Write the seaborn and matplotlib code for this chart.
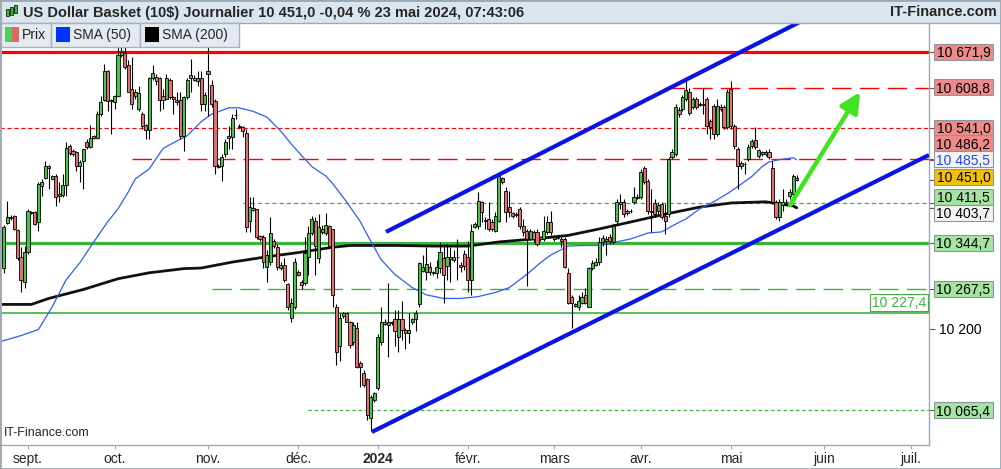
import numpy as np
import pandas as pd
import matplotlib
matplotlib.use("Agg")
import matplotlib.pyplot as plt
from matplotlib.patches import Rectangle
import seaborn as sns

sns.set_style("white")
plt.rcParams["font.family"] = ["Liberation Sans", "DejaVu Sans"]
plt.rcParams["lines.scale_dashes"] = False

# ---------------- data ----------------
# daily sessions (sunday to friday), 24 aug 2023 -> 23 may 2024
first_day = "2023-08-24"
holidays = ["2023-12-24", "2023-12-25", "2023-12-31", "2024-01-01", "2024-03-31"]

opens = [10302, 10378, 10388, 10390, 10366, 10321, 10279, 10329, 10397, 10397,
         10380, 10441, 10455, 10475, 10453, 10458, 10428, 10426, 10443, 10510,
         10501, 10499, 10475, 10484, 10516, 10508, 10527, 10523, 10564, 10588,
         10638, 10588, 10585, 10595, 10667, 10670, 10650, 10607, 10602, 10573,
         10564, 10545, 10537, 10626, 10629, 10626, 10595, 10591, 10624, 10593,
         10588, 10588, 10527, 10593, 10631, 10627, 10621, 10627, 10581, 10633,
         10615, 10586, 10475, 10475, 10496, 10527, 10525, 10563, 10544, 10542,
         10532, 10381, 10400, 10402, 10356, 10354, 10304, 10312, 10347, 10337,
         10302, 10307, 10276, 10219, 10237, 10296, 10279, 10277, 10321, 10361,
         10381, 10319, 10368, 10361, 10373, 10368, 10237, 10171, 10221, 10227,
         10212, 10179, 10201, 10144, 10127, 10117, 10052, 10082, 10102, 10179,
         10212, 10207, 10211, 10217, 10187, 10217, 10199, 10194, 10211, 10216,
         10241, 10297, 10296, 10304, 10296, 10294, 10302, 10319, 10306, 10321,
         10316, 10321, 10307, 10326, 10321, 10282, 10371, 10373, 10414, 10383,
         10385, 10380, 10364, 10381, 10455, 10433, 10405, 10395, 10393, 10402,
         10373, 10364, 10351, 10363, 10363, 10354, 10351, 10363, 10380, 10351,
         10354, 10351, 10351, 10294, 10254, 10241, 10236, 10244, 10257, 10237,
         10302, 10307, 10312, 10346, 10351, 10354, 10346, 10381, 10414, 10414,
         10399, 10399, 10414, 10422, 10422, 10472, 10450, 10399, 10412, 10399,
         10410, 10390, 10393, 10491, 10496, 10571, 10573, 10590, 10603, 10576,
         10590, 10581, 10581, 10590, 10552, 10578, 10530, 10576, 10576, 10542,
         10607, 10544, 10505, 10475, 10479, 10487, 10510, 10520, 10493, 10499,
         10496, 10499, 10472, 10414, 10388, 10409, 10414, 10424, 10428, 10455]

highs = [10375, 10416, 10392, 10392, 10368, 10337, 10339, 10402, 10399, 10399,
         10448, 10452, 10484, 10477, 10460, 10462, 10448, 10462, 10516, 10513,
         10505, 10501, 10486, 10505, 10522, 10545, 10528, 10569, 10595, 10651,
         10641, 10590, 10597, 10680, 10682, 10682, 10658, 10663, 10607, 10612,
         10568, 10547, 10629, 10650, 10633, 10629, 10607, 10633, 10627, 10595,
         10603, 10603, 10595, 10627, 10660, 10631, 10638, 10638, 10603, 10689,
         10624, 10590, 10479, 10496, 10522, 10544, 10564, 10573, 10547, 10544,
         10539, 10422, 10422, 10402, 10357, 10357, 10333, 10388, 10351, 10342,
         10312, 10319, 10277, 10252, 10319, 10299, 10282, 10354, 10373, 10390,
         10388, 10393, 10375, 10395, 10375, 10368, 10241, 10227, 10229, 10229,
         10214, 10211, 10211, 10146, 10132, 10119, 10090, 10095, 10191, 10237,
         10216, 10277, 10214, 10232, 10232, 10246, 10202, 10227, 10219, 10232,
         10312, 10324, 10337, 10312, 10297, 10316, 10346, 10342, 10342, 10337,
         10333, 10351, 10312, 10333, 10347, 10376, 10380, 10431, 10416, 10388,
         10414, 10385, 10397, 10462, 10457, 10440, 10433, 10397, 10397, 10405,
         10385, 10368, 10368, 10366, 10368, 10356, 10390, 10390, 10399, 10357,
         10357, 10354, 10354, 10302, 10257, 10244, 10257, 10261, 10269, 10304,
         10316, 10319, 10354, 10357, 10356, 10359, 10376, 10419, 10428, 10419,
         10402, 10402, 10440, 10428, 10470, 10475, 10453, 10436, 10419, 10414,
         10414, 10410, 10491, 10505, 10581, 10576, 10598, 10621, 10610, 10593,
         10593, 10585, 10610, 10593, 10556, 10581, 10590, 10581, 10580, 10607,
         10622, 10547, 10508, 10484, 10482, 10513, 10522, 10542, 10505, 10501,
         10503, 10505, 10484, 10417, 10419, 10436, 10419, 10436, 10462, 10460]

lows = [10294, 10376, 10383, 10366, 10316, 10261, 10269, 10326, 10393, 10375,
        10364, 10424, 10452, 10436, 10452, 10407, 10414, 10422, 10424, 10494,
        10493, 10467, 10448, 10436, 10505, 10506, 10522, 10522, 10561, 10586,
        10569, 10530, 10573, 10593, 10663, 10643, 10602, 10573, 10591, 10569,
        10539, 10522, 10522, 10624, 10615, 10569, 10573, 10590, 10590, 10564,
        10580, 10522, 10501, 10590, 10602, 10621, 10612, 10569, 10569, 10561,
        10576, 10462, 10472, 10450, 10491, 10505, 10505, 10556, 10540, 10525,
        10363, 10363, 10399, 10351, 10347, 10302, 10279, 10307, 10335, 10299,
        10299, 10279, 10232, 10211, 10234, 10289, 10266, 10274, 10291, 10357,
        10291, 10311, 10359, 10357, 10335, 10237, 10140, 10146, 10219, 10211,
        10169, 10174, 10135, 10104, 10104, 10049, 10032, 10079, 10099, 10174,
        10206, 10154, 10206, 10171, 10161, 10182, 10166, 10177, 10209, 10196,
        10237, 10296, 10282, 10291, 10291, 10286, 10294, 10244, 10282, 10279,
        10312, 10282, 10296, 10299, 10261, 10257, 10369, 10368, 10380, 10368,
        10364, 10364, 10363, 10380, 10445, 10380, 10388, 10387, 10388, 10368,
        10356, 10271, 10349, 10346, 10339, 10347, 10347, 10359, 10357, 10347,
        10351, 10337, 10302, 10241, 10202, 10236, 10232, 10241, 10241, 10237,
        10299, 10306, 10307, 10339, 10324, 10342, 10342, 10376, 10402, 10388,
        10392, 10395, 10410, 10419, 10419, 10445, 10393, 10363, 10388, 10393,
        10385, 10359, 10388, 10487, 10493, 10559, 10569, 10586, 10563, 10573,
        10573, 10578, 10564, 10530, 10522, 10522, 10527, 10569, 10539, 10539,
        10539, 10505, 10436, 10470, 10462, 10484, 10506, 10505, 10489, 10493,
        10493, 10487, 10410, 10385, 10381, 10399, 10409, 10419, 10424, 10449]

closes = [10371, 10388, 10387, 10368, 10319, 10282, 10329, 10399, 10395, 10376,
          10445, 10448, 10475, 10472, 10458, 10422, 10424, 10443, 10506, 10498,
          10496, 10475, 10482, 10505, 10508, 10523, 10523, 10564, 10585, 10638,
          10586, 10586, 10595, 10667, 10672, 10646, 10603, 10581, 10595, 10600,
          10544, 10537, 10626, 10636, 10621, 10588, 10588, 10626, 10593, 10591,
          10585, 10527, 10593, 10624, 10626, 10624, 10627, 10581, 10598, 10638,
          10581, 10475, 10474, 10491, 10516, 10523, 10557, 10562, 10542, 10535,
          10371, 10405, 10404, 10354, 10351, 10312, 10324, 10361, 10339, 10304,
          10307, 10282, 10237, 10244, 10312, 10291, 10274, 10328, 10361, 10385,
          10339, 10371, 10363, 10375, 10339, 10257, 10161, 10219, 10227, 10212,
          10174, 10207, 10137, 10137, 10107, 10057, 10087, 10094, 10187, 10212,
          10209, 10212, 10210, 10196, 10217, 10199, 10194, 10199, 10216, 10227,
          10311, 10304, 10309, 10296, 10294, 10304, 10329, 10291, 10321, 10317,
          10321, 10320, 10304, 10306, 10282, 10364, 10376, 10416, 10397, 10382,
          10368, 10368, 10390, 10458, 10448, 10397, 10397, 10390, 10392, 10373,
          10363, 10351, 10364, 10351, 10342, 10351, 10364, 10380, 10363, 10354,
          10353, 10347, 10304, 10244, 10244, 10239, 10246, 10254, 10244, 10302,
          10311, 10312, 10346, 10352, 10347, 10347, 10373, 10414, 10410, 10393,
          10395, 10398, 10422, 10421, 10465, 10448, 10399, 10397, 10393, 10409,
          10388, 10381, 10487, 10499, 10576, 10564, 10593, 10605, 10566, 10590,
          10576, 10580, 10580, 10544, 10542, 10530, 10578, 10573, 10542, 10603,
          10544, 10510, 10475, 10481, 10478, 10508, 10518, 10508, 10503, 10496,
          10499, 10491, 10414, 10388, 10414, 10414, 10413, 10431, 10458, 10451]

# moving averages (session index, value)
sma50_idx = [-1, 5, 10, 14, 18, 22, 26, 30, 33, 36, 38, 42, 46, 50, 53, 57, 60, 65, 68,
             72, 76, 80, 83, 86, 89, 93, 95, 99, 103, 106, 109, 113, 118, 122, 127,
             132, 137, 142, 146, 151, 155, 158, 163, 168, 172, 181, 186, 190, 193,
             197, 201, 205, 209, 212, 216, 219, 221, 224, 228, 229]
sma50_val = [10179, 10189, 10199, 10237, 10282, 10311, 10346, 10380, 10402, 10431,
             10453, 10470, 10505, 10518, 10527, 10551, 10564, 10575, 10575, 10569,
             10559, 10535, 10513, 10493, 10474, 10458, 10445, 10414, 10380, 10347,
             10316, 10291, 10269, 10257, 10251, 10251, 10254, 10261, 10269, 10291,
             10311, 10324, 10339, 10340, 10340, 10351, 10361, 10363, 10373, 10385,
             10402, 10414, 10428, 10440, 10457, 10474, 10482, 10486, 10489, 10485.5]

sma200_idx = [-1, 8, 13, 23, 33, 42, 52, 57, 66, 76, 85, 95, 100, 114, 124, 134, 143,
              153, 163, 172, 182, 191, 201, 210, 220, 228, 229]
sma200_val = [10241, 10241, 10251, 10266, 10284, 10294, 10301, 10302, 10312, 10321,
              10328, 10337, 10340, 10340, 10339, 10339, 10346, 10351, 10357, 10368,
              10381, 10393, 10405, 10412, 10414, 10407, 10403.7]

# horizontal levels and the session where each one starts
level_val = [10671.9, 10608.8, 10541.0, 10486.2, 10411.5, 10344.7, 10267.5, 10227.4, 10065.4]
level_from = [-1, 191, -1, 37, 69, -1, 60, -1, 88]

# trend channel and target arrow (session index, price)
chan_low_x, chan_low_y = [106.3, 267.2], [10029.9, 10493.9]
chan_up_x, chan_up_y = [110.4, 229.9], [10362.9, 10724.3]
arrow_from = (227.1, 10408.6)
arrow_to = (247.3, 10602.3)

month_labels = ["sept.", "oct.", "nov.", "déc.", "2024", "févr.", "mars", "avr.", "mai", "juin", "juil."]

right_labels = ["10 671,9", "10 608,8", "10 541,0", "10 486,2", "10 485,5", "10 451,0",
                "10 411,5", "10 403,7", "10 344,7", "10 267,5", "10 065,4"]
right_values = [10671.9, 10608.8, 10541.0, 10486.2, 10485.5, 10451.0,
                10411.5, 10403.7, 10344.7, 10267.5, 10065.4]

# ---------------- styling ----------------
GREEN_C = "#4cc24c"
RED_C = "#e07070"
RED_L = "#ff0000"
GREEN_L = "#3cb43c"
FRAME = "#9ea8b2"

W, H = 1001, 469
fig = plt.figure(figsize=(W / 100, H / 100), dpi=100)
fig.patch.set_facecolor("white")
ax = fig.add_axes([2 / W, (H - 445) / H, (929 - 2) / W, (445 - 23) / H])
ax.set_facecolor("white")

days = pd.date_range(first_day, "2024-07-31")
days = days[(days.dayofweek != 5) & ~days.isin(pd.to_datetime(holidays))]
pos = pd.Series(np.arange(len(days)), index=days)
month_first = pos.groupby(pos.index.to_period("M")).min().iloc[1:12].values

o, h, l, c = map(np.array, (opens, highs, lows, closes))
idx = np.arange(len(o))
up = c >= o

ax.set_yscale("log")

# levels
styles = ["-", (0, (14, 6)), (0, (3, 2)), (0, (14, 6)), (0, (3, 2.2)), "-", (0, (14, 6)), "-", (0, (2.5, 2))]
colors = [RED_L, RED_L, RED_L, RED_L, GREEN_L, GREEN_L, GREEN_L, GREEN_L, GREEN_L]
widths = [2.3, 1.0, 0.9, 1.0, 0.9, 2.3, 1.0, 1.2, 0.9]
for v, x0, col, ls, lw in zip(level_val, level_from, colors, styles, widths):
    ax.hlines(v, x0, 267.2, colors=col, linestyles=[ls], lw=lw, zorder=2)

# moving averages
sns.lineplot(x=sma200_idx, y=sma200_val, ax=ax, color="#111111", lw=2.0, zorder=5)
sns.lineplot(x=sma50_idx, y=sma50_val, ax=ax, color="#2f5cff", lw=0.9, zorder=5)

# candles
ax.vlines(idx, l, h, color="black", lw=0.8, zorder=6)
ax.bar(idx, np.maximum(np.abs(c - o), 0.6), bottom=np.minimum(o, c), width=0.9,
       color=np.where(up, GREEN_C, RED_C), edgecolor="black", linewidth=0.6, zorder=7)

# channel + arrow
ax.plot(chan_low_x, chan_low_y, color="#0a14e6", lw=3.0, solid_capstyle="butt", zorder=8)
ax.plot(chan_up_x, chan_up_y, color="#0a14e6", lw=3.0, solid_capstyle="butt", zorder=8)
ax.annotate("", xy=arrow_to, xytext=arrow_from,
            arrowprops=dict(arrowstyle="-|>,head_length=1.2,head_width=0.6", color="#3fe31f",
                            lw=3.2, shrinkA=0, shrinkB=0), zorder=8)

ax.set_xlim(-0.5, 267.2)
ax.set_ylim(10008.6, 10722.5)

# axes cosmetics
for s in ["top", "left"]:
    ax.spines[s].set_visible(False)
for s in ["right", "bottom"]:
    ax.spines[s].set_color(FRAME)
    ax.spines[s].set_linewidth(1.0)
ax.yaxis.tick_right()
ax.set_yticks([], minor=True)
ax.set_yticks(right_values + [10200], labels=[""] * len(right_values) + ["10 200"])
ax.tick_params(axis="y", which="major", right=True, length=4, width=0.8, color="#555555",
               labelsize=10, pad=3, labelcolor="black")
ax.set_xticks(month_first, labels=month_labels)
ax.tick_params(axis="x", bottom=True, length=3, width=0.8, color=FRAME, labelsize=10, pad=2)
ax.get_xticklabels()[4].set_fontweight("bold")
ax.set_xlabel("")
ax.set_ylabel("")
ax.grid(False)

ax.text(0.002, 0.015, "IT-Finance.com", transform=ax.transAxes, fontsize=9, ha="left", va="bottom")

# in-plot label for 10 227,4
ax.annotate("10 227,4", xy=(1, 10227.4), xycoords=("axes fraction", "data"),
            xytext=(-2, 2), textcoords="offset points", ha="right", va="bottom",
            fontsize=10, color=GREEN_L,
            bbox=dict(boxstyle="square,pad=0.12", fc="white", ec=GREEN_L, lw=0.8), zorder=9)

# right-hand value boxes (pixel nudges keep them from overlapping)
faces = ["#f08a8a"] * 4 + ["#f4f4f4", "#f2c200", "#a4e4a0", "#f4f4f4", "#a4e4a0", "#a4e4a0", "#a4e4a0"]
tcols = ["black"] * 4 + ["#1f44ff"] + ["black"] * 6
nudge = [0, 1, 0, 16, 0.5, 3.5, 6.5, -5, 0, 0, 0]
for txt, val, fc, tc, dy in zip(right_labels, right_values, faces, tcols, nudge):
    ypix = ax.transData.transform((0, val))[1] + dy
    fig.patches.append(Rectangle((934 / W, (ypix - 8) / H), 59 / W, 16 / H,
                                 transform=fig.transFigure, fc=fc, ec="#8c969e", lw=0.8))
    fig.text(963.5 / W, ypix / H, txt, ha="center", va="center_baseline", fontsize=10, color=tc)

# title bar
fig.patches.append(Rectangle((0, (H - 23) / H), 1, 23 / H, transform=fig.transFigure,
                             fc="#dbe5ee", ec=FRAME, lw=1.0))
fig.text(23 / W, (H - 12.5) / H, "US Dollar Basket (10$) Journalier 10 451,0 -0,04 % 23 mai 2024, 07:43:06",
         ha="left", va="center", fontsize=10.5, fontweight="bold")
fig.text(997 / W, (H - 12.5) / H, "IT-Finance.com", ha="right", va="center", fontsize=10.5, fontweight="bold")
for k, (col, y0, hh) in enumerate([("#3cb43c", 9, 7), ("#3cb43c", 7, 8), ("#3cb43c", 5, 8)]):
    fig.patches.append(Rectangle(((6 + 4 * k) / W, (H - y0 - hh) / H), 2.5 / W, hh / H,
                                 transform=fig.transFigure, fc=col, ec="black", lw=0.5))

# legend boxes
boxes = [(0, 51, "Prix"), (51, 140, "SMA (50)"), (140, 239, "SMA (200)")]
for x0, x1, name in boxes:
    fig.patches.append(Rectangle((x0 / W, (H - 47) / H), (x1 - x0) / W, 24 / H,
                                 transform=fig.transFigure, fc="#e4eaf0", ec="#a7b1bb", lw=1.0))
    fig.text((x0 + 22) / W, (H - 35) / H, name, ha="left", va="center", fontsize=10)
fig.patches.append(Rectangle((5 / W, (H - 42) / H), 7 / W, 14.5 / H, transform=fig.transFigure, fc="#55cc55", lw=0))
fig.patches.append(Rectangle((12 / W, (H - 42) / H), 6.5 / W, 14.5 / H, transform=fig.transFigure, fc="#e06666", lw=0))
fig.patches.append(Rectangle((56 / W, (H - 42) / H), 14 / W, 14.5 / H, transform=fig.transFigure, fc="#0033ff", lw=0))
fig.patches.append(Rectangle((145 / W, (H - 42) / H), 14 / W, 14.5 / H, transform=fig.transFigure, fc="black", lw=0))

# outer frame
fig.patches.append(Rectangle((0, 0), 1, 1, transform=fig.transFigure, fill=False, ec=FRAME, lw=2))

fig.savefig("out.png", dpi=100)
